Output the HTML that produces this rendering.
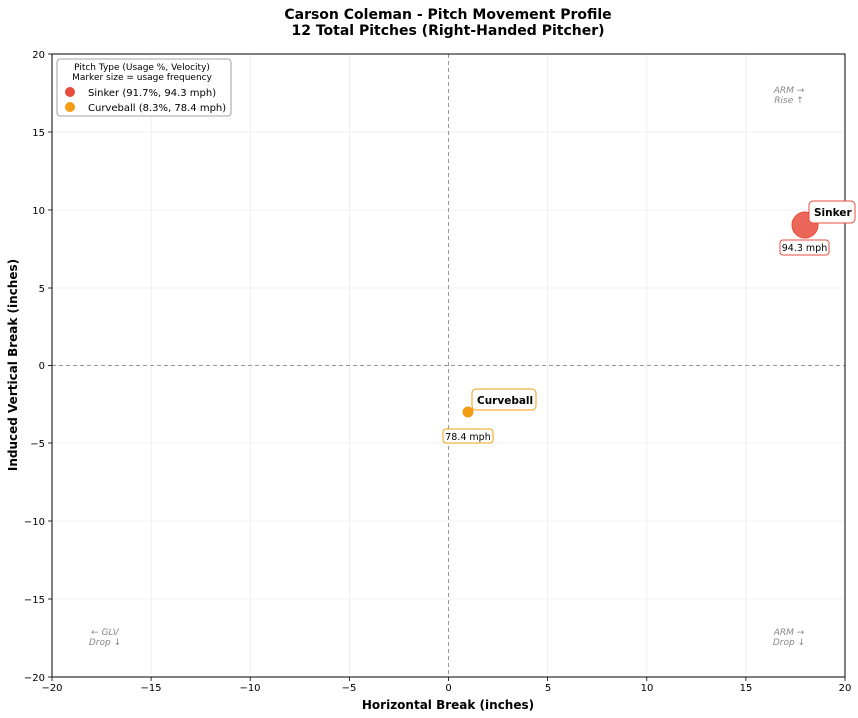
<!DOCTYPE html>
<html><head><meta charset="utf-8"><style>body{margin:0;background:#fff}svg{display:block}text{font-family:"DejaVu Sans","Liberation Sans",sans-serif}</style></head><body>
<svg width="858" height="718" viewBox="0 0 858 718" xmlns="http://www.w3.org/2000/svg">
<rect width="858" height="718" fill="#fff"/>
<text x="448" y="19" font-size="14" font-weight="bold" text-anchor="middle">Carson Coleman - Pitch Movement Profile</text>
<text x="448" y="35" font-size="14" font-weight="bold" text-anchor="middle">12 Total Pitches (Right-Handed Pitcher)</text>
<g stroke="#ebebeb" stroke-width="0.8">
<line x1="151.1" y1="54" x2="151.1" y2="677"/><line x1="250.2" y1="54" x2="250.2" y2="677"/><line x1="349.4" y1="54" x2="349.4" y2="677"/><line x1="547.6" y1="54" x2="547.6" y2="677"/><line x1="646.8" y1="54" x2="646.8" y2="677"/><line x1="745.9" y1="54" x2="745.9" y2="677"/>
<line x1="52" y1="132" x2="845" y2="132"/><line x1="52" y1="210" x2="845" y2="210"/><line x1="52" y1="288" x2="845" y2="288"/><line x1="52" y1="443" x2="845" y2="443"/><line x1="52" y1="521" x2="845" y2="521"/><line x1="52" y1="599" x2="845" y2="599"/>
</g>
<g stroke="#999" stroke-width="1" stroke-dasharray="4,3">
<line x1="448.5" y1="54" x2="448.5" y2="677"/><line x1="52" y1="365.5" x2="845" y2="365.5"/>
</g>
<rect x="52" y="54" width="793" height="623" fill="none" stroke="#000" stroke-width="1"/>
<g font-size="10" text-anchor="middle">
<text x="52" y="691">−20</text><text x="151" y="691">−15</text><text x="250" y="691">−10</text><text x="349" y="691">−5</text><text x="448.5" y="691">0</text><text x="548" y="691">5</text><text x="647" y="691">10</text><text x="746" y="691">15</text><text x="845" y="691">20</text>
</g>
<g font-size="10" text-anchor="end">
<text x="45" y="58">20</text><text x="45" y="136">15</text><text x="45" y="214">10</text><text x="45" y="292">5</text><text x="45" y="369">0</text><text x="45" y="447">−5</text><text x="45" y="525">−10</text><text x="45" y="603">−15</text><text x="45" y="681">−20</text>
</g>
<g stroke="#000" stroke-width="0.8">
<line x1="52" y1="677" x2="52" y2="681"/><line x1="151.1" y1="677" x2="151.1" y2="681"/><line x1="250.2" y1="677" x2="250.2" y2="681"/><line x1="349.4" y1="677" x2="349.4" y2="681"/><line x1="448.5" y1="677" x2="448.5" y2="681"/><line x1="547.6" y1="677" x2="547.6" y2="681"/><line x1="646.8" y1="677" x2="646.8" y2="681"/><line x1="745.9" y1="677" x2="745.9" y2="681"/><line x1="845" y1="677" x2="845" y2="681"/>
<line x1="48" y1="54" x2="52" y2="54"/><line x1="48" y1="132" x2="52" y2="132"/><line x1="48" y1="210" x2="52" y2="210"/><line x1="48" y1="288" x2="52" y2="288"/><line x1="48" y1="365.5" x2="52" y2="365.5"/><line x1="48" y1="443" x2="52" y2="443"/><line x1="48" y1="521" x2="52" y2="521"/><line x1="48" y1="599" x2="52" y2="599"/><line x1="48" y1="677" x2="52" y2="677"/>
</g>
<text x="448" y="709" font-size="12" font-weight="bold" text-anchor="middle">Horizontal Break (inches)</text>
<text transform="translate(17,365) rotate(-90)" font-size="12" font-weight="bold" text-anchor="middle">Induced Vertical Break (inches)</text>
<g font-size="9" font-style="italic" fill="#888" text-anchor="middle">
<text x="789" y="93">ARM →</text><text x="789" y="103">Rise ↑</text>
<text x="105" y="635">← GLV</text><text x="105" y="645">Drop ↓</text>
<text x="789" y="635">ARM →</text><text x="789" y="645">Drop ↓</text>
</g>
<circle cx="805" cy="225" r="13" fill="#e74c3c" fill-opacity="0.85" stroke="#e74c3c"/>
<circle cx="468" cy="412" r="5" fill="#f39c12" stroke="#f39c12"/>
<rect x="809" y="201" width="46" height="22" rx="4" fill="#fff" stroke="#e74c3c"/>
<text x="814" y="216" font-size="10.5" font-weight="bold">Sinker</text>
<rect x="780" y="240" width="49" height="15" rx="3" fill="#fff" stroke="#e74c3c"/>
<text x="804.5" y="251" font-size="9.5" text-anchor="middle">94.3 mph</text>
<rect x="472" y="389" width="64" height="21" rx="4" fill="#fff" stroke="#f39c12"/>
<text x="477" y="404" font-size="10.5" font-weight="bold">Curveball</text>
<rect x="443" y="429" width="50" height="14" rx="3" fill="#fff" stroke="#f39c12"/>
<text x="468" y="440" font-size="9.5" text-anchor="middle">78.4 mph</text>
<rect x="57" y="59" width="174" height="57" rx="3" fill="#fff" stroke="#888" stroke-width="0.8"/>
<text x="142" y="70" font-size="9" text-anchor="middle">Pitch Type (Usage %, Velocity)</text>
<text x="142" y="80" font-size="9" text-anchor="middle">Marker size = usage frequency</text>
<circle cx="70" cy="92" r="5" fill="#e74c3c"/>
<circle cx="70" cy="107" r="5" fill="#f39c12"/>
<text x="88" y="96" font-size="10">Sinker (91.7%, 94.3 mph)</text>
<text x="88" y="111" font-size="10">Curveball (8.3%, 78.4 mph)</text>
</svg>
</body></html>
